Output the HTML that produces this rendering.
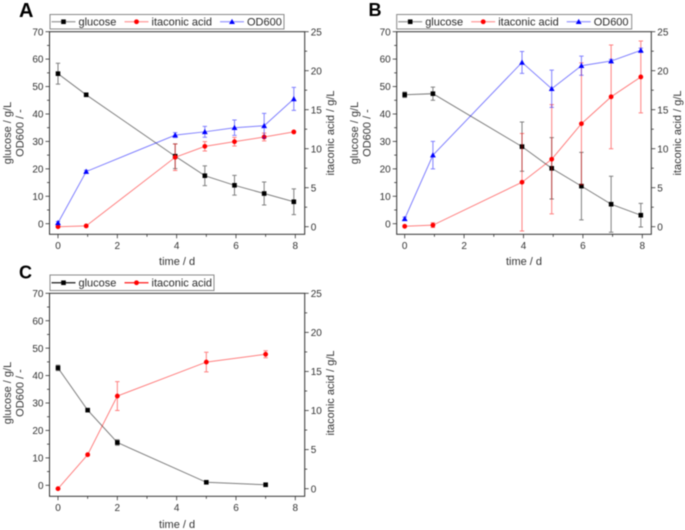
<!DOCTYPE html>
<html>
<head>
<meta charset="utf-8">
<title>Glucose, itaconic acid and OD600 over time</title>
<style>
html,body{margin:0;padding:0;background:#fff;}
svg{display:block;font-family:"Liberation Sans",sans-serif;filter:blur(0.45px);}
</style>
</head>
<body>
<svg id="figure" xmlns="http://www.w3.org/2000/svg" width="685" height="530" viewBox="0 0 685 530"></svg>
<script>
// Panel A data
const aTime = [0, 0.95, 3.95, 4.95, 5.95, 6.95, 7.95];
const aGlucose = [54.7, 47, 24.6, 17.5, 14, 11, 8];
const aGlucoseErr = [3.8, 0.3, 4.5, 3.6, 3.6, 4.2, 4.7];
const aItaconic = [0, 0.1, 8.9, 10.3, 10.9, 11.5, 12.15];
const aItaconicErr = [0, 0.1, 1.7, 0.6, 0.55, 0.5, 0.1];
const aOd = [0.3, 19, 32.3, 33.5, 35, 35.7, 45.5];
const aOdErr = [0.5, 0.5, 0.9, 2, 2.8, 4.5, 4.2];

// Panel B data
const bTime = [0, 0.95, 3.95, 4.95, 5.95, 6.95, 7.95];
const bGlucose = [47, 47.4, 28.1, 20.2, 13.7, 7.1, 3.1];
const bGlucoseErr = [1, 2.4, 9, 11.2, 12.3, 10.2, 4.3];
const bItaconic = [0.05, 0.2, 5.7, 8.65, 13.2, 16.65, 19.2];
const bItaconicErr = [0.1, 0.3, 6.25, 7, 7.8, 6.65, 4.6];
const bOd = [1.8, 25, 58.8, 49.2, 57.6, 59.3, 63.2];
const bOdErr = [0.6, 5, 4, 6.8, 3.5, 0.6, 0.8];

// Panel C data
const cTime = [0, 1, 2, 5, 7];
const cGlucose = [42.8, 27.4, 15.6, 1.1, 0.2];
const cGlucoseErr = [1, 0.4, 1, 0.3, 0.2];
const cItaconic = [0, 4.35, 11.85, 16.2, 17.2];
const cItaconicErr = [0.05, 0.1, 1.85, 1.25, 0.45];

// Tick labels
const xTicks = [0, 2, 4, 6, 8];
const leftTicks = [0, 10, 20, 30, 40, 50, 60, 70];
const rightTicks = [0, 5, 10, 15, 20, 25];

const NS = 'http://www.w3.org/2000/svg';
const root = document.getElementById('figure');

function make(parent, tag, attrs, text) {
  const el = document.createElementNS(NS, tag);
  for (const k in attrs) el.setAttribute(k, attrs[k]);
  if (text !== undefined) el.textContent = text;
  parent.appendChild(el);
  return el;
}

function drawMarker(parent, kind, x, y, color) {
  let el;
  if (kind === 'square') {
    el = make(parent, 'rect', {x: x - 2.3, y: y - 2.3, width: 4.6, height: 4.6, fill: color});
  } else if (kind === 'circle') {
    el = make(parent, 'circle', {cx: x, cy: y, r: 2.4, fill: color});
  } else {
    el = make(parent, 'polygon', {points: (x - 2.9) + ',' + (y + 2.3) + ' ' + (x + 2.9) + ',' + (y + 2.3) + ' ' + x + ',' + (y - 2.9), fill: color});
  }
  
  
}

function drawSeries(parent, name, times, values, errors, xFn, yFn, color, kind) {
  const g = make(parent, 'g', {});
  
  
  const pts = times.map((t, i) => xFn(t) + ',' + yFn(values[i])).join(' ');
  const line = make(g, 'polyline', {points: pts, fill: 'none', stroke: color, 'stroke-opacity': 0.5, 'stroke-width': 1});
  
  
  times.forEach((t, i) => {
    const x = xFn(t);
    const hi = yFn(values[i] + errors[i]);
    const lo = yFn(values[i] - errors[i]);
    const bar = make(g, 'path', {
      d: 'M' + x + ' ' + hi + 'V' + lo + 'M' + (x - 2.2) + ' ' + hi + 'H' + (x + 2.2) + 'M' + (x - 2.2) + ' ' + lo + 'H' + (x + 2.2),
      fill: 'none', stroke: color, 'stroke-opacity': 0.5, 'stroke-width': 1
    });
    
    
  });
  times.forEach((t, i) => drawMarker(g, kind, xFn(t), yFn(values[i]), color));
}

function drawLegend(parent, box, entries) {
  const g = make(parent, 'g', {});
  
  
  make(g, 'rect', {x: box.x, y: box.y, width: box.w, height: box.h, fill: '#fff', stroke: '#8a8a8a', 'stroke-width': 1});
  const cy = box.y + box.h / 2;
  entries.forEach(e => {
    const item = make(g, 'g', {});
    
    
    make(item, 'line', {x1: box.x + e.offset + 1.5, x2: box.x + e.offset + 25.5, y1: cy, y2: cy, stroke: e.color, 'stroke-opacity': box.lineOpacity, 'stroke-width': 1.3});
    drawMarker(item, e.kind, box.x + e.offset + 13.5, cy, e.color);
    make(item, 'text', {x: box.x + e.offset + 28.5, y: cy + 3.9, 'font-size': 11, fill: '#2a2a2a'}, e.label);
  });
}

function drawPanel(p) {
  const g = make(root, 'g', {});
  
  

  const xFn = v => p.x0 + (p.x8 - p.x0) * v / 8;
  const yLeft = v => p.yZero + (p.top - p.yZero) * v / 70;
  const yRight = v => p.rZero + (p.top - p.rZero) * v / 25;
  const ink = '#333';

  const label = make(g, 'text', {x: p.labelX, y: p.labelY, 'font-size': p.labelSize, 'font-weight': 'bold', fill: '#000'}, p.letter);
  
  

  const frame = make(g, 'rect', {x: p.left, y: p.top, width: p.right - p.left, height: p.bottom - p.top, fill: 'none', stroke: ink, 'stroke-width': 1});
  
  

  // x axis ticks
  for (let v = 0; v <= 8; v += 1) {
    const major = v % 2 === 0;
    make(g, 'line', {x1: xFn(v), x2: xFn(v), y1: p.bottom, y2: p.bottom + (major ? 4 : 2.5), stroke: ink, 'stroke-width': 0.8});
  }
  xTicks.forEach(v => {
    const t = make(g, 'text', {x: xFn(v), y: p.bottom + 14.5, 'font-size': 10, 'text-anchor': 'middle', fill: ink}, v);
    
    
  });

  // left axis ticks
  for (let v = 0; v <= 70; v += 5) {
    const major = v % 10 === 0;
    make(g, 'line', {x1: p.left, x2: p.left - (major ? 4 : 2.5), y1: yLeft(v), y2: yLeft(v), stroke: ink, 'stroke-width': 0.8});
  }
  leftTicks.forEach(v => {
    const t = make(g, 'text', {x: p.left - 6, y: yLeft(v) + 3.6, 'font-size': 10, 'text-anchor': 'end', fill: ink}, v);
    
    
  });

  // right axis ticks
  for (let v = 0; v <= 25; v += 2.5) {
    const major = v % 5 === 0;
    make(g, 'line', {x1: p.right, x2: p.right + (major ? 4 : 2.5), y1: yRight(v), y2: yRight(v), stroke: ink, 'stroke-width': 0.8});
  }
  rightTicks.forEach(v => {
    const t = make(g, 'text', {x: p.right + 6, y: yRight(v) + 3.6, 'font-size': 10, fill: ink}, v);
    
    
  });

  // axis titles
  const xTitle = make(g, 'text', {x: (p.left + p.right) / 2 + p.titleShift, y: p.xTitleY, 'font-size': 11, 'text-anchor': 'middle', fill: ink}, 'time / d');
  
  
  const cy = p.titleY;
  const t1 = make(g, 'text', {transform: 'translate(' + p.leftTitleX + ',' + cy + ') rotate(-90)', 'font-size': 11, 'text-anchor': 'middle', fill: ink}, 'glucose / g/L');
  
  
  const t2 = make(g, 'text', {transform: 'translate(' + (p.leftTitleX + 12.5) + ',' + cy + ') rotate(-90)', 'font-size': 11, 'text-anchor': 'middle', fill: ink}, 'OD600 / -');
  
  
  const t3 = make(g, 'text', {transform: 'translate(' + p.rightTitleX + ',' + cy + ') rotate(-90)', 'font-size': 11, 'text-anchor': 'middle', fill: ink}, 'itaconic acid / g/L');
  
  

  // series
  drawSeries(g, 'glucose', p.time, p.glucose, p.glucoseErr, xFn, yLeft, '#000000', 'square');
  drawSeries(g, 'itaconic-acid', p.time, p.itaconic, p.itaconicErr, xFn, yRight, '#ff0000', 'circle');
  if (p.od) drawSeries(g, 'od600', p.time, p.od, p.odErr, xFn, yLeft, '#0000ff', 'triangle');

  drawLegend(g, p.legend, p.legendEntries);
}

const entriesThree = [
  {label: 'glucose', color: '#000000', kind: 'square', offset: 0},
  {label: 'itaconic acid', color: '#ff0000', kind: 'circle', offset: 73},
  {label: 'OD600', color: '#0000ff', kind: 'triangle', offset: 168.5}
];
const entriesTwo = [
  {label: 'glucose', color: '#000000', kind: 'square', offset: 0},
  {label: 'itaconic acid', color: '#ff0000', kind: 'circle', offset: 73}
];

drawPanel({
  letter: 'A', labelX: 19, labelY: 17, labelSize: 20,
  left: 49.5, right: 304.7, top: 31.7, bottom: 234.3,
  x0: 58, x8: 295.3, yZero: 223.7, rZero: 226.7,
  xTitleY: 265, titleShift: 0, titleY: 133, leftTitleX: 11, rightTitleX: 334,
  time: aTime, glucose: aGlucose, glucoseErr: aGlucoseErr,
  itaconic: aItaconic, itaconicErr: aItaconicErr, od: aOd, odErr: aOdErr,
  legend: {x: 50, y: 14.5, w: 234, h: 14.5, lineOpacity: 0.4},
  legendEntries: entriesThree
});

drawPanel({
  letter: 'B', labelX: 368.5, labelY: 16, labelSize: 18,
  left: 396.7, right: 651.3, top: 31.7, bottom: 234.3,
  x0: 404.7, x8: 642.3, yZero: 223.7, rZero: 226.7,
  xTitleY: 265, titleShift: 0, titleY: 133, leftTitleX: 358, rightTitleX: 681,
  time: bTime, glucose: bGlucose, glucoseErr: bGlucoseErr,
  itaconic: bItaconic, itaconicErr: bItaconicErr, od: bOd, odErr: bOdErr,
  legend: {x: 396.7, y: 14.5, w: 235, h: 14.5, lineOpacity: 0.4},
  legendEntries: entriesThree
});

drawPanel({
  letter: 'C', labelX: 19, labelY: 278.5, labelSize: 18,
  left: 49.5, right: 304.7, top: 293.3, bottom: 496.3,
  x0: 58, x8: 295.3, yZero: 485.3, rZero: 488.7,
  xTitleY: 528, titleShift: 0, titleY: 393, leftTitleX: 11, rightTitleX: 334,
  time: cTime, glucose: cGlucose, glucoseErr: cGlucoseErr,
  itaconic: cItaconic, itaconicErr: cItaconicErr, od: null, odErr: null,
  legend: {x: 50, y: 275, w: 164, h: 15.5, lineOpacity: 0.9},
  legendEntries: entriesTwo
});
</script>
</body>
</html>
